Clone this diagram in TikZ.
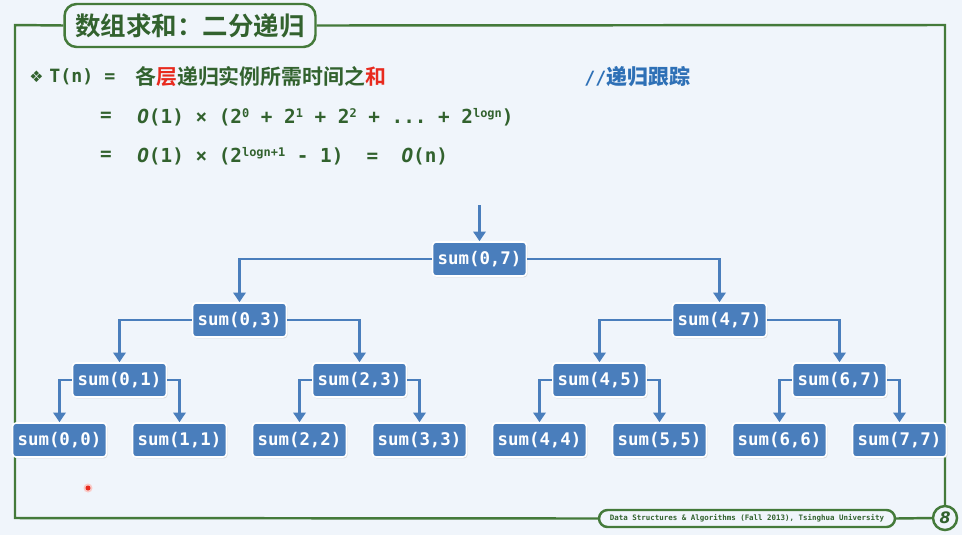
\documentclass[tikz,border=0pt]{standalone}
\usepackage{fontspec}
\setmainfont{DejaVu Sans}
\setmonofont{DejaVu Sans Mono}
\newfontfamily\cjk{Noto Sans CJK SC Bold}
\usetikzlibrary{arrows.meta, shadows, positioning}
\definecolor{bgblue}{RGB}{240,245,251}
\definecolor{framegreen}{RGB}{68,122,58}
\definecolor{txtgreen}{RGB}{50,98,46}
\definecolor{hlred}{RGB}{232,42,30}
\definecolor{cmtblue}{RGB}{46,112,182}
\definecolor{boxblue}{RGB}{74,126,188}
\tikzset{
    sumbox/.style={
        fill=boxblue,
        draw=white,
        line width=0.9pt,
        rounded corners=2pt,
        text=white,
        font=\ttfamily\bfseries\fontsize{9.9}{11}\selectfont,
        minimum width=1.88cm,
        minimum height=0.68cm,
        inner sep=0pt,
        drop shadow={shadow xshift=0.6pt, shadow yshift=-0.8pt, fill=gray!45}
    },
    call/.style={draw=boxblue, line width=1.5pt, -{Triangle[width=7pt, length=5.5pt]}},
    frameline/.style={draw=framegreen, line width=1.4pt},
    mono/.style={inner sep=0pt, text=txtgreen, font=\ttfamily\bfseries\fontsize{11}{13}\selectfont}
}
\newcommand{\sps}[1]{\raisebox{0.55ex}{\fontsize{6.8}{7}\selectfont #1}}

\begin{document}
\begin{tikzpicture}[x=0.02cm, y=-0.02cm]
    \fill[bgblue] (0,0) rectangle (962,535);
    \useasboundingbox (0,0) rectangle (962,535);

    % Frame : title tab, footer and page mark
    \node[frameline, fill=bgblue, rounded corners=0.24cm, minimum width=5.02cm, minimum height=0.86cm,
        text=txtgreen, font=\cjk\fontsize{14.5}{16}\selectfont] (title) at (190,25.5) {数组求和：二分递归};
    \node[frameline, fill=bgblue, rounded corners=0.17cm, minimum width=5.92cm, minimum height=0.34cm, inner sep=0pt,
        text=txtgreen, font=\ttfamily\bfseries\fontsize{4.25}{5}\selectfont] (foot) at (747,518.5)
        {Data Structures \& Algorithms (Fall 2013), Tsinghua University};
    \node[frameline, circle, fill=bgblue, minimum size=0.48cm, inner sep=0pt, text=txtgreen,
        font=\bfseries\itshape\small] (mark) at (945,518) {8};
    \draw[frameline] (title.west) -- (15,25) -- (15,518) -- (foot.west);
    \draw[frameline] (foot.east) -- (mark.west);
    \draw[frameline] (mark.north) -- (945,25) -- (title.east);

    % Formula
    \node[mono, anchor=west, font=\bfseries\small] (bullet) at (29,77) {❖};
    \node[mono, anchor=west, font=\ttfamily\bfseries\fontsize{10.4}{12}\selectfont] (tn) at (49,77) {T(n) =};
    \node[inner sep=0pt, anchor=west, text=txtgreen, font=\cjk\fontsize{11.9}{14}\selectfont] (level) at (135,77)
        {各{\color{hlred}层}递归实例所需时间之{\color{hlred}和}};
    \node[inner sep=0pt, anchor=west, text=cmtblue] (trace) at (584,77)
        {\ttfamily\bfseries\fontsize{10.4}{12}\selectfont //\cjk\fontsize{11.9}{14}\selectfont 递归跟踪};
    \node[mono] (eqa) at (106,117) {=};
    \node[mono, anchor=west] (geo) at (137,117)
        {\textit{O}(1) × (2\sps{0} + 2\sps{1} + 2\sps{2} + ... + 2\sps{logn})};
    \node[mono] (eqb) at (106,156) {=};
    \node[mono, anchor=west] (total) at (137,156)
        {\textit{O}(1) × (2\sps{logn+1} - 1)\ \ =\ \ \textit{O}(n)};

    % Recursion trace
    \coordinate (entry) at (479.5,205);
    \node[sumbox] (s07) at (479.5,259) {sum(0,7)};

    \node[sumbox] (s03) at (239.5,320) {sum(0,3)};
    \node[sumbox] (s47) at (719.5,320) {sum(4,7)};

    \node[sumbox] (s01) at (119.5,380) {sum(0,1)};
    \node[sumbox] (s23) at (359.5,380) {sum(2,3)};
    \node[sumbox] (s45) at (599.5,380) {sum(4,5)};
    \node[sumbox] (s67) at (839.5,380) {sum(6,7)};

    \node[sumbox] (s00) at (59.5,440) {sum(0,0)};
    \node[sumbox] (s11) at (179.5,440) {sum(1,1)};
    \node[sumbox] (s22) at (299.5,440) {sum(2,2)};
    \node[sumbox] (s33) at (419.5,440) {sum(3,3)};
    \node[sumbox] (s44) at (539.5,440) {sum(4,4)};
    \node[sumbox] (s55) at (659.5,440) {sum(5,5)};
    \node[sumbox] (s66) at (779.5,440) {sum(6,6)};
    \node[sumbox] (s77) at (899.5,440) {sum(7,7)};

    \draw[call] (entry) -- (s07);
    \draw[call] (s07.west) -| (s03.north);
    \draw[call] (s07.east) -| (s47.north);
    \draw[call] (s03.west) -| (s01.north);
    \draw[call] (s03.east) -| (s23.north);
    \draw[call] (s47.west) -| (s45.north);
    \draw[call] (s47.east) -| (s67.north);
    \draw[call] (s01.west) -| (s00.north);
    \draw[call] (s01.east) -| (s11.north);
    \draw[call] (s23.west) -| (s22.north);
    \draw[call] (s23.east) -| (s33.north);
    \draw[call] (s45.west) -| (s44.north);
    \draw[call] (s45.east) -| (s55.north);
    \draw[call] (s67.west) -| (s66.north);
    \draw[call] (s67.east) -| (s77.north);

    % pointer dot
    \fill[hlred!25] (88,488) circle (4.5);
    \fill[hlred] (88,488) circle (2.5);
\end{tikzpicture}
\end{document}
